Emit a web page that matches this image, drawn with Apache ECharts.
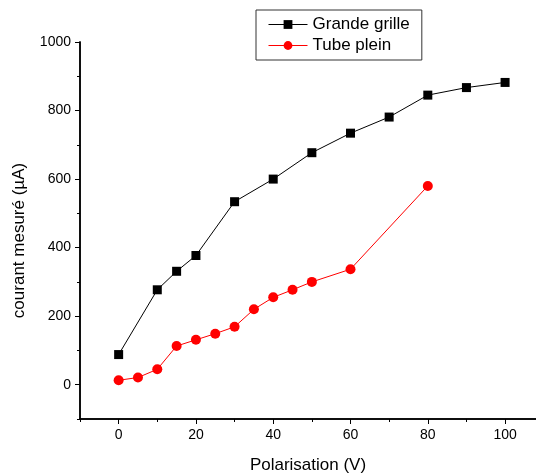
<!DOCTYPE html>
<html>
<head>
<meta charset="utf-8">
<script src="https://cdn.jsdelivr.net/npm/echarts@6/dist/echarts.min.js"></script>
<style>
  html, body { margin: 0; padding: 0; background: #fff; }
  #chart { width: 536px; height: 476px; }
</style>
</head>
<body>
<div id="chart"></div>
<script>
  // données
  const grilleX = [0, 10, 15, 20, 30, 40, 50, 60, 70, 80, 90, 100];
  const grilleY = [88, 277, 331, 377, 534, 600, 677, 734, 781, 845, 867, 882];
  const tubeX = [0, 5, 10, 15, 20, 25, 30, 35, 40, 45, 50, 60, 80];
  const tubeY = [13, 21, 45, 113, 131, 149, 169, 220, 255, 277, 300, 337, 580];

  const xMajor = [0, 20, 40, 60, 80, 100];
  const xMinor = [-10, 10, 30, 50, 70, 90];
  const yMajor = [0, 200, 400, 600, 800, 1000];
  const yMinor = [-100, 100, 300, 500, 700, 900];

  const font = 'Liberation Sans, Arial, sans-serif';
  const chart = echarts.init(document.getElementById('chart'));

  const zip = (xs, ys) => xs.map((x, i) => [x, ys[i]]);

  const baseX = {
    type: 'value', min: -10, max: 108, position: 'bottom',
    splitLine: { show: false },
    axisLine: { onZero: false, lineStyle: { color: '#000', width: 1.5 } }
  };
  const baseY = {
    type: 'value', min: -100, max: 1000, position: 'left',
    splitLine: { show: false },
    axisLine: { onZero: false, lineStyle: { color: '#000', width: 1.5 } }
  };

  chart.setOption({
    animation: false,
    backgroundColor: '#fff',
    grid: { left: 80, top: 42, right: 0, bottom: 57, containLabel: false, outerBoundsMode: 'none' },
    legend: {
      orient: 'vertical',
      left: 256, top: 10,
      width: 150,
      padding: [6, 12, 6, 12],
      itemGap: 4,
      itemWidth: 39, itemHeight: 11,
      backgroundColor: '#fff',
      borderColor: '#333', borderWidth: 1,
      lineStyle: { width: 1 },
      textStyle: { fontFamily: font, fontSize: 17, color: '#000', width: 104 },
      data: ['Grande grille', 'Tube plein']
    },
    xAxis: [
      Object.assign({}, baseX, {
        name: 'Polarisation (V)',
        nameLocation: 'middle', nameGap: 38,
        nameTextStyle: { fontFamily: font, fontSize: 17, color: '#000' },
        axisTick: { customValues: xMajor, length: 5, lineStyle: { color: '#000' } },
        axisLabel: { customValues: xMajor, fontFamily: font, fontSize: 14, color: '#000', margin: 9 }
      }),
      Object.assign({}, baseX, {
        axisTick: { customValues: xMinor, length: 3, lineStyle: { color: '#000' } },
        axisLabel: { show: false }
      })
    ],
    yAxis: [
      Object.assign({}, baseY, {
        name: 'courant mesuré (µA)',
        nameLocation: 'middle', nameGap: 52,
        nameTextStyle: { fontFamily: font, fontSize: 17, color: '#000', padding: [0, 20, 0, 0] },
        axisTick: { customValues: yMajor, length: 5, lineStyle: { color: '#000' } },
        axisLabel: {
          customValues: yMajor, fontFamily: font, fontSize: 14, color: '#000', margin: 9,
          formatter: v => String(v)
        }
      }),
      Object.assign({}, baseY, {
        axisTick: { customValues: yMinor, length: 3, lineStyle: { color: '#000' } },
        axisLabel: { show: false }
      })
    ],
    series: [
      {
        name: 'Grande grille',
        type: 'line',
        data: zip(grilleX, grilleY),
        symbol: 'rect', symbolSize: 9,
        itemStyle: { color: '#000' },
        lineStyle: { color: '#000', width: 1 }
      },
      {
        name: 'Tube plein',
        type: 'line',
        data: zip(tubeX, tubeY),
        symbol: 'circle', symbolSize: 10,
        itemStyle: { color: '#ff0000' },
        lineStyle: { color: '#ff0000', width: 1 }
      }
    ]
  });
</script>
</body>
</html>
